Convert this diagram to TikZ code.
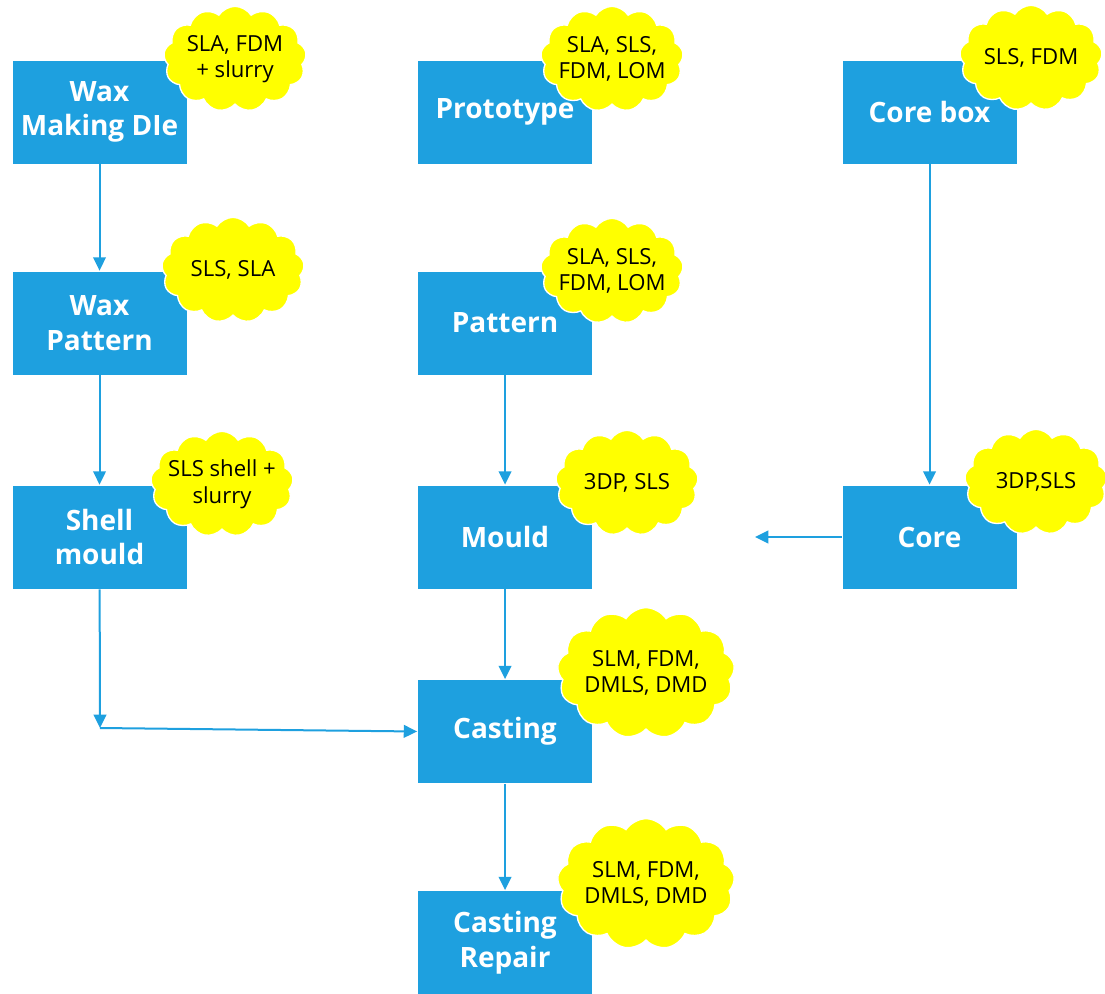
\documentclass[tikz,border=0pt]{standalone}
\usepackage{fontspec}
\setmainfont{Open Sans}
\usetikzlibrary{shapes.symbols,arrows.meta}
\definecolor{stepblue}{HTML}{1EA0DF}
\definecolor{noteyellow}{HTML}{FFFF00}
\tikzset{
  stepbox/.style={rectangle, fill=stepblue, draw=white, line width=0.6pt,
    minimum width=131.25pt, minimum height=78pt, inner sep=0pt,
    text=white, align=center,
    font=\fontsize{21pt}{26pt}\selectfont\bfseries},
  note/.style={cloud, cloud puffs=13, cloud puff arc=115, aspect=1.4,
    fill=noteyellow, draw=white, line width=1pt,
    inner xsep=-14pt, inner ysep=-8pt,
    text=black, align=center,
    font=\fontsize{16.6pt}{20pt}\selectfont},
  smallnote/.style={note, minimum width=107pt, minimum height=79pt},
  bignote/.style={note, minimum width=133pt, minimum height=98pt},
  arr/.style={draw=stepblue, line width=1.5pt,
    -{Triangle[width=9.5pt,length=10pt]}},
}
\begin{document}
\begin{tikzpicture}[x=0.75pt,y=-0.75pt]
\useasboundingbox (0,0) rectangle (1105,994);

% process steps
\node[stepbox] (die)    at (99.5,112)  {Wax\\Making DIe};
\node[stepbox] (proto)  at (505,112)   {Prototype};
\node[stepbox] (cbox)   at (929.5,112) {Core box};
\node[stepbox] (wpat)   at (99.5,323)  {Wax\\Pattern};
\node[stepbox] (pat)    at (505,323)   {Pattern};
\node[stepbox] (shell)  at (99.5,537)  {Shell\\mould};
\node[stepbox] (mould)  at (505,537)   {Mould};
\node[stepbox] (core)   at (929.5,537) {Core};
\node[stepbox] (cast)   at (505,731.5) {Casting};
\node[stepbox] (repair) at (505,942.5) {Casting\\Repair};

% free ends of connectors
\coordinate (bend)  at (100,728);
\coordinate (cfree) at (755,537);

% connectors
\draw[arr] (die) -- (wpat);
\draw[arr] (wpat) -- (shell);
\draw[arr] (shell) -- (bend);
\draw[arr] (bend) -- (cast.west);
\draw[arr] (pat) -- (mould);
\draw[arr] (cbox) -- (core);
\draw[arr] (core) -- (cfree);
\draw[arr] (mould) -- (cast);
\draw[arr] (cast) -- (repair);

% manufacturing processes for each step
\node[smallnote] (ndie)   at (235,59)   {SLA, FDM\\+ slurry};
\node[smallnote] (nproto) at (612,59)   {SLA, SLS,\\FDM, LOM};
\node[smallnote] (ncbox)  at (1031,58)  {SLS, FDM};
\node[smallnote] (nwpat)  at (233,270)  {SLS, SLA};
\node[smallnote] (npat)   at (612,271)  {SLA, SLS,\\FDM, LOM};
\node[smallnote] (nshell) at (222,484)  {SLS shell +\\slurry};
\node[smallnote] (nmould) at (627,483)  {3DP, SLS};
\node[smallnote] (ncore)  at (1036,482) {3DP,SLS};
\node[bignote]   (ncast)  at (646,673)  {SLM, FDM,\\DMLS, DMD};
\node[bignote]   (nrep)   at (646,884)  {SLM, FDM,\\DMLS, DMD};
\end{tikzpicture}
\end{document}
